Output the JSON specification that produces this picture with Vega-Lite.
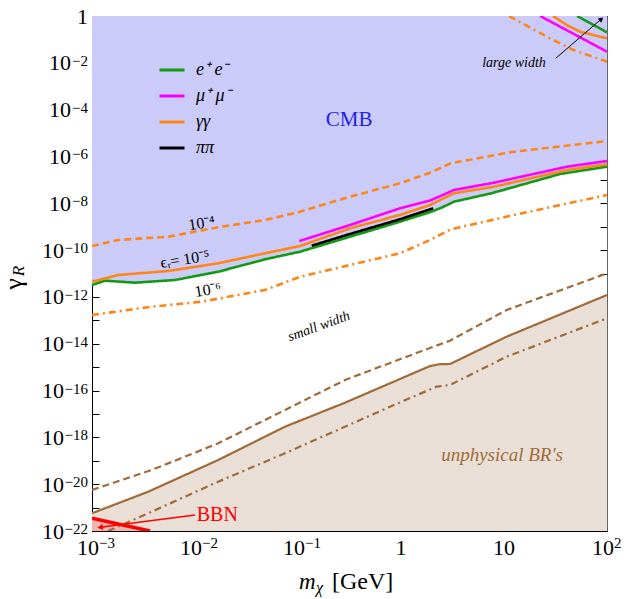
{
 "$schema": "https://vega.github.io/schema/vega-lite/v6.json",
 "width": 515, "height": 515,
 "autosize": {"type": "none"},
 "padding": {"left": 92, "top": 16, "right": 27, "bottom": 68},
 "background": "white",
 "config": {"view": {"stroke": "#333333", "strokeWidth": 1}},
 "datasets": {
  "curves": [
   {"line":"ee-a","ch":"e⁺ e⁻","sty":"solid","m":0.001,"g":3.23e-12},
   {"line":"ee-a","ch":"e⁺ e⁻","sty":"solid","m":0.00134,"g":4.93e-12},
   {"line":"ee-a","ch":"e⁺ e⁻","sty":"solid","m":0.00261,"g":4.05e-12},
   {"line":"ee-a","ch":"e⁺ e⁻","sty":"solid","m":0.0064,"g":5.28e-12},
   {"line":"ee-a","ch":"e⁺ e⁻","sty":"solid","m":0.0168,"g":1.19e-11},
   {"line":"ee-a","ch":"e⁺ e⁻","sty":"solid","m":0.0478,"g":4.04e-11},
   {"line":"ee-a","ch":"e⁺ e⁻","sty":"solid","m":0.105,"g":8.55e-11},
   {"line":"ee-a","ch":"e⁺ e⁻","sty":"solid","m":0.32,"g":3.73e-10},
   {"line":"ee-a","ch":"e⁺ e⁻","sty":"solid","m":0.977,"g":1.63e-9},
   {"line":"ee-a","ch":"e⁺ e⁻","sty":"solid","m":1.95,"g":4.3e-9},
   {"line":"ee-a","ch":"e⁺ e⁻","sty":"solid","m":2.5,"g":6.6e-9},
   {"line":"ee-a","ch":"e⁺ e⁻","sty":"solid","m":3.27,"g":1.17e-8},
   {"line":"ee-a","ch":"e⁺ e⁻","sty":"solid","m":7.6,"g":2.69e-8},
   {"line":"ee-a","ch":"e⁺ e⁻","sty":"solid","m":35,"g":1.78e-7},
   {"line":"ee-a","ch":"e⁺ e⁻","sty":"solid","m":100,"g":3.66e-7},
   {"line":"ee-b","ch":"e⁺ e⁻","sty":"solid","m":51.2,"g":1},
   {"line":"ee-b","ch":"e⁺ e⁻","sty":"solid","m":100,"g":0.201},
   {"line":"gg-a","ch":"γγ","sty":"solid","m":0.001,"g":4.47e-12},
   {"line":"gg-a","ch":"γγ","sty":"solid","m":0.0018,"g":8.63e-12},
   {"line":"gg-a","ch":"γγ","sty":"solid","m":0.0055,"g":1.28e-11},
   {"line":"gg-a","ch":"γγ","sty":"solid","m":0.0168,"g":2.73e-11},
   {"line":"gg-a","ch":"γγ","sty":"solid","m":0.0478,"g":7.29e-11},
   {"line":"gg-a","ch":"γγ","sty":"solid","m":0.105,"g":1.5e-10},
   {"line":"gg-a","ch":"γγ","sty":"solid","m":0.32,"g":8.53e-10},
   {"line":"gg-a","ch":"γγ","sty":"solid","m":0.977,"g":3.16e-9},
   {"line":"gg-a","ch":"γγ","sty":"solid","m":1.91,"g":8.43e-9},
   {"line":"gg-a","ch":"γγ","sty":"solid","m":3.27,"g":2.67e-8},
   {"line":"gg-a","ch":"γγ","sty":"solid","m":8.0,"g":5.11e-8},
   {"line":"gg-a","ch":"γγ","sty":"solid","m":40.9,"g":2.64e-7},
   {"line":"gg-a","ch":"γγ","sty":"solid","m":100,"g":4.62e-7},
   {"line":"gg-b","ch":"γγ","sty":"solid","m":29.9,"g":1},
   {"line":"gg-b","ch":"γγ","sty":"solid","m":40.6,"g":0.413},
   {"line":"gg-b","ch":"γγ","sty":"solid","m":54.7,"g":0.213},
   {"line":"gg-b","ch":"γγ","sty":"solid","m":100,"g":0.111},
   {"line":"gg-d","ch":"γγ","sty":"dash","m":0.001,"g":1.5e-10},
   {"line":"gg-d","ch":"γγ","sty":"dash","m":0.0018,"g":2.7e-10},
   {"line":"gg-d","ch":"γγ","sty":"dash","m":0.0055,"g":3.73e-10},
   {"line":"gg-d","ch":"γγ","sty":"dash","m":0.0168,"g":9.42e-10},
   {"line":"gg-d","ch":"γγ","sty":"dash","m":0.0478,"g":1.93e-9},
   {"line":"gg-d","ch":"γγ","sty":"dash","m":0.105,"g":4.37e-9},
   {"line":"gg-d","ch":"γγ","sty":"dash","m":0.32,"g":1.91e-8},
   {"line":"gg-d","ch":"γγ","sty":"dash","m":0.977,"g":7.13e-8},
   {"line":"gg-d","ch":"γγ","sty":"dash","m":1.91,"g":2.02e-7},
   {"line":"gg-d","ch":"γγ","sty":"dash","m":3.04,"g":5.11e-7},
   {"line":"gg-d","ch":"γγ","sty":"dash","m":12.5,"g":1.6e-6},
   {"line":"gg-d","ch":"γγ","sty":"dash","m":100,"g":4.57e-6},
   {"line":"gg-e","ch":"γγ","sty":"dashdot","m":0.001,"g":1.69e-13},
   {"line":"gg-e","ch":"γγ","sty":"dashdot","m":0.0038,"g":3.82e-13},
   {"line":"gg-e","ch":"γγ","sty":"dashdot","m":0.0116,"g":6.25e-13},
   {"line":"gg-e","ch":"γγ","sty":"dashdot","m":0.0478,"g":1.98e-12},
   {"line":"gg-e","ch":"γγ","sty":"dashdot","m":0.105,"g":7.31e-12},
   {"line":"gg-e","ch":"γγ","sty":"dashdot","m":0.32,"g":2.31e-11},
   {"line":"gg-e","ch":"γγ","sty":"dashdot","m":0.977,"g":7.29e-11},
   {"line":"gg-e","ch":"γγ","sty":"dashdot","m":1.91,"g":2.7e-10},
   {"line":"gg-e","ch":"γγ","sty":"dashdot","m":3.04,"g":7.73e-10},
   {"line":"gg-e","ch":"γγ","sty":"dashdot","m":12.5,"g":3.16e-9},
   {"line":"gg-e","ch":"γγ","sty":"dashdot","m":100,"g":2.26e-8},
   {"line":"gg-f","ch":"γγ","sty":"dashdot","m":11.2,"g":1},
   {"line":"gg-f","ch":"γγ","sty":"dashdot","m":26.0,"g":0.131},
   {"line":"gg-f","ch":"γγ","sty":"dashdot","m":47.1,"g":0.0353},
   {"line":"gg-f","ch":"γγ","sty":"dashdot","m":100,"g":0.0112},
   {"line":"mm-a","ch":"μ⁺ μ⁻","sty":"solid","m":0.103,"g":2.44e-10},
   {"line":"mm-a","ch":"μ⁺ μ⁻","sty":"solid","m":0.32,"g":1.18e-9},
   {"line":"mm-a","ch":"μ⁺ μ⁻","sty":"solid","m":0.977,"g":6.1e-9},
   {"line":"mm-a","ch":"μ⁺ μ⁻","sty":"solid","m":1.95,"g":1.35e-8},
   {"line":"mm-a","ch":"μ⁺ μ⁻","sty":"solid","m":3.27,"g":3.69e-8},
   {"line":"mm-a","ch":"μ⁺ μ⁻","sty":"solid","m":8.0,"g":7.57e-8},
   {"line":"mm-a","ch":"μ⁺ μ⁻","sty":"solid","m":40.9,"g":3.66e-7},
   {"line":"mm-a","ch":"μ⁺ μ⁻","sty":"solid","m":100,"g":6.4e-7},
   {"line":"mm-b","ch":"μ⁺ μ⁻","sty":"solid","m":22.4,"g":1},
   {"line":"mm-b","ch":"μ⁺ μ⁻","sty":"solid","m":100,"g":0.0299},
   {"line":"pp-a","ch":"ππ","sty":"solid","m":0.136,"g":1.54e-10},
   {"line":"pp-a","ch":"ππ","sty":"solid","m":0.32,"g":4.88e-10},
   {"line":"pp-a","ch":"ππ","sty":"solid","m":0.977,"g":2.07e-9},
   {"line":"pp-a","ch":"ππ","sty":"solid","m":2.05,"g":6.1e-9}
  ],
  "brown": [
   {"sty":"solid","m":0.001,"g":5.71e-22},
   {"sty":"solid","m":0.00352,"g":4.79e-21},
   {"sty":"solid","m":0.0168,"g":1.08e-19},
   {"sty":"solid","m":0.0748,"g":2.86e-18},
   {"sty":"solid","m":0.286,"g":3.03e-17},
   {"sty":"solid","m":1.9,"g":1.1e-15},
   {"sty":"solid","m":2.4,"g":1.35e-15},
   {"sty":"solid","m":2.99,"g":1.36e-15},
   {"sty":"solid","m":10.6,"g":2.0e-14},
   {"sty":"solid","m":100,"g":1.21e-12},
   {"sty":"dash","m":0.001,"g":5.65e-21},
   {"sty":"dash","m":0.0038,"g":4.05e-20},
   {"sty":"dash","m":0.0168,"g":5.58e-19},
   {"sty":"dash","m":0.0748,"g":1.48e-17},
   {"sty":"dash","m":0.286,"g":2.82e-16},
   {"sty":"dash","m":1.135,"g":2.8e-15},
   {"sty":"dash","m":2.06,"g":7.46e-15},
   {"sty":"dash","m":2.99,"g":1.35e-14},
   {"sty":"dash","m":10.6,"g":2.76e-13},
   {"sty":"dash","m":100,"g":1.02e-11},
   {"sty":"dashdot","m":0.00143,"g":1e-22},
   {"sty":"dashdot","m":0.0038,"g":6.68e-22},
   {"sty":"dashdot","m":0.0168,"g":1.28e-20},
   {"sty":"dashdot","m":0.0748,"g":2.09e-19},
   {"sty":"dashdot","m":0.286,"g":2.86e-18},
   {"sty":"dashdot","m":0.782,"g":2.04e-17},
   {"sty":"dashdot","m":2.22,"g":1.47e-16},
   {"sty":"dashdot","m":2.99,"g":1.73e-16},
   {"sty":"dashdot","m":10.6,"g":2.8e-15},
   {"sty":"dashdot","m":100,"g":1.22e-13}
  ],
  "bbn": [{"m":0.001,"g":3.49e-22},{"m":0.00366,"g":1e-22}],
  "arrows": [
   {"name":"large","m":31.8,"g":0.0156,"m2":88.1,"g2":0.744},
   {"name":"bbn","m":0.01,"g":4.84e-22,"m2":0.0012,"g2":1.44e-22}
  ],
  "epslabels": [
   {"t":"10⁻⁴","m":0.0116,"g":1.4e-9},
   {"t":"ϵᵣ= 10⁻⁵","m":0.008,"g":4.05e-11},
   {"t":"10⁻⁶","m":0.01336,"g":1.98e-12}
  ],
  "xlab": [
   {"m":0.001,"g":1e-22,"b":"10","e":"−3"},
   {"m":0.01,"g":1e-22,"b":"10","e":"−2"},
   {"m":0.1,"g":1e-22,"b":"10","e":"−1"},
   {"m":1,"g":1e-22,"b":"1","e":""},
   {"m":10,"g":1e-22,"b":"10","e":""},
   {"m":100,"g":1e-22,"b":"10","e":"2"}
  ],
  "ylab": [
   {"m":0.001,"g":1,"b":"1","e":""},
   {"m":0.001,"g":1e-2,"b":"10","e":"−2"},
   {"m":0.001,"g":1e-4,"b":"10","e":"−4"},
   {"m":0.001,"g":1e-6,"b":"10","e":"−6"},
   {"m":0.001,"g":1e-8,"b":"10","e":"−8"},
   {"m":0.001,"g":1e-10,"b":"10","e":"−10"},
   {"m":0.001,"g":1e-12,"b":"10","e":"−12"},
   {"m":0.001,"g":1e-14,"b":"10","e":"−14"},
   {"m":0.001,"g":1e-16,"b":"10","e":"−16"},
   {"m":0.001,"g":1e-18,"b":"10","e":"−18"},
   {"m":0.001,"g":1e-20,"b":"10","e":"−20"},
   {"m":0.001,"g":1e-22,"b":"10","e":"−22"}
  ]
 },
 "encoding": {
  "x": {"field":"m","type":"quantitative","scale":{"type":"log","domain":[0.001,100],"nice":false},"axis":null},
  "y": {"field":"g","type":"quantitative","scale":{"type":"log","domain":[1e-22,1],"nice":false},"axis":null}
 },
 "layer": [
  {
   "data": {"name":"curves"},
   "transform": [{"filter":"datum.line == 'ee-a'"}],
   "mark": {"type":"area","color":"#CBCBFA","opacity":1,"clip":true},
   "encoding": {
    "x": {"field":"m","type":"quantitative","scale":{"type":"log","domain":[0.001,100],"nice":false},
     "axis":{"orient":"bottom","values":[0.001,0.002,0.003,0.004,0.005,0.006,0.007,0.008,0.009,0.01,0.02,0.03,0.04,0.05,0.06,0.07,0.08,0.09,0.1,0.2,0.3,0.4,0.5,0.6,0.7,0.8,0.9,1,2,3,4,5,6,7,8,9,10,20,30,40,50,60,70,80,90,100],
      "labels":false,"tickSize":-7,"tickColor":"#000","tickWidth":1,"domainColor":"#000","grid":false,"title":null}},
    "y": {"field":"g","type":"quantitative","scale":{"type":"log","domain":[1e-22,1],"nice":false},
     "axis":{"orient":"left","values":[1,0.1,1e-2,1e-3,1e-4,1e-5,1e-6,1e-7,1e-8,1e-9,1e-10,1e-11,1e-12,1e-13,1e-14,1e-15,1e-16,1e-17,1e-18,1e-19,1e-20,1e-21,1e-22],
      "labels":false,"tickSize":-7,"tickColor":"#000","tickWidth":1,"domainColor":"#000","grid":false,"title":null}},
    "y2": {"datum":1}
   }
  },
  {
   "data": {"name":"brown"},
   "transform": [{"filter":"datum.sty == 'solid'"}],
   "mark": {"type":"area","color":"#E9DFD6","opacity":1,"clip":true},
   "encoding": {
    "x": {"field":"m","type":"quantitative","scale":{"type":"log","domain":[0.001,100],"nice":false},
     "axis":{"orient":"top","values":[0.001,0.002,0.003,0.004,0.005,0.006,0.007,0.008,0.009,0.01,0.02,0.03,0.04,0.05,0.06,0.07,0.08,0.09,0.1,0.2,0.3,0.4,0.5,0.6,0.7,0.8,0.9,1,2,3,4,5,6,7,8,9,10,20,30,40,50,60,70,80,90,100],
      "labels":false,"tickSize":-7,"tickColor":"#000","tickWidth":1,"domainColor":"#000","grid":false,"title":null}},
    "y": {"field":"g","type":"quantitative","scale":{"type":"log","domain":[1e-22,1],"nice":false},
     "axis":{"orient":"right","values":[1,0.1,1e-2,1e-3,1e-4,1e-5,1e-6,1e-7,1e-8,1e-9,1e-10,1e-11,1e-12,1e-13,1e-14,1e-15,1e-16,1e-17,1e-18,1e-19,1e-20,1e-21,1e-22],
      "labels":false,"tickSize":-7,"tickColor":"#000","tickWidth":1,"domainColor":"#666","grid":false,"title":null}},
    "y2": {"datum":1e-22}
   }
  },
  {
   "data": {"name":"bbn"},
   "mark": {"type":"area","color":"#F2B6B0","opacity":1,"clip":true},
   "encoding": {"y2": {"datum":1e-22}}
  },
  {
   "data": {"name":"bbn"},
   "mark": {"type":"line","color":"#FF0000","strokeWidth":3.5,"clip":true},
   "encoding": {}
  },
  {
   "data": {"name":"brown"},
   "mark": {"type":"line","color":"#A06B38","strokeWidth":2.2,"clip":true},
   "encoding": {
    "detail": {"field":"sty"},
    "strokeDash": {"field":"sty","type":"nominal","scale":{"domain":["solid","dash","dashdot"],"range":[[1,0],[7,4],[7,4,2,4]]},"legend":null}
   }
  },
  {
   "data": {"name":"curves"},
   "mark": {"type":"line","strokeWidth":2.6,"clip":true},
   "encoding": {
    "detail": {"field":"line"},
    "color": {"field":"ch","type":"nominal","scale":{"domain":["e⁺ e⁻","μ⁺ μ⁻","γγ","ππ"],"range":["#139A13","#FF00FF","#FF8616","#000000"]},
     "legend":{"orient":"none","legendX":66,"legendY":40,"title":null,"symbolType":"stroke","symbolSize":625,"symbolStrokeWidth":3,"labelFont":"Liberation Serif","labelFontStyle":"italic","labelFontSize":18,"labelColor":"#000","labelOffset":10,"rowPadding":3,"padding":0}},
    "strokeDash": {"field":"sty","type":"nominal","scale":{"domain":["solid","dash","dashdot"],"range":[[1,0],[7,4],[7,4,2,4]]},"legend":null}
   }
  },
  {
   "data": {"name":"arrows"},
   "transform": [{"filter":"datum.name == 'large'"}],
   "mark": {"type":"rule","color":"#000","strokeWidth":1},
   "encoding": {"x2":{"field":"m2"},"y2":{"field":"g2"}}
  },
  {
   "data": {"name":"arrows"},
   "transform": [{"filter":"datum.name == 'large'"}],
   "mark": {"type":"point","shape":"triangle-up","filled":true,"color":"#000","size":30,"angle":49,"opacity":1},
   "encoding": {"x":{"field":"m2","type":"quantitative"},"y":{"field":"g2","type":"quantitative"}}
  },
  {
   "data": {"name":"arrows"},
   "transform": [{"filter":"datum.name == 'bbn'"}],
   "mark": {"type":"rule","color":"#FF0000","strokeWidth":1.5},
   "encoding": {"x2":{"field":"m2"},"y2":{"field":"g2"}}
  },
  {
   "data": {"name":"arrows"},
   "transform": [{"filter":"datum.name == 'bbn'"}],
   "mark": {"type":"point","shape":"triangle-up","filled":true,"color":"#FF0000","size":40,"angle":263,"opacity":1},
   "encoding": {"x":{"field":"m2","type":"quantitative"},"y":{"field":"g2","type":"quantitative"}}
  },
  {
   "data": {"values":[{"t":"CMB","m":0.313,"g":3.6e-5}]},
   "mark": {"type":"text","font":"Liberation Serif","fontSize":21,"color":"#1E1EF0","align":"center","baseline":"middle"},
   "encoding": {"text":{"field":"t"}}
  },
  {
   "data": {"values":[{"t":"large width","m":12.5,"g":0.0095}]},
   "mark": {"type":"text","font":"Liberation Serif","fontStyle":"italic","fontSize":14,"color":"#000","align":"center","baseline":"middle"},
   "encoding": {"text":{"field":"t"}}
  },
  {
   "data": {"values":[{"t":"unphysical BR's","m":9.57,"g":1.77e-19}]},
   "mark": {"type":"text","font":"Liberation Serif","fontStyle":"italic","fontSize":19,"color":"#A06B38","align":"center","baseline":"middle"},
   "encoding": {"text":{"field":"t"}}
  },
  {
   "data": {"values":[{"t":"BBN","m":0.0104,"g":4.8e-22}]},
   "mark": {"type":"text","font":"Liberation Serif","fontSize":20,"color":"#FF0000","align":"left","baseline":"middle"},
   "encoding": {"text":{"field":"t"}}
  },
  {
   "data": {"values":[{"t":"small width","m":0.16,"g":5.5e-14}]},
   "mark": {"type":"text","font":"Liberation Serif","fontStyle":"italic","fontSize":14,"color":"#000","align":"center","baseline":"middle","angle":340},
   "encoding": {"text":{"field":"t"}}
  },
  {
   "data": {"name":"epslabels"},
   "mark": {"type":"text","font":"Liberation Serif","fontSize":16,"color":"#000","align":"center","baseline":"middle","angle":351},
   "encoding": {"text":{"field":"t"}}
  },
  {
   "data": {"name":"xlab"},
   "transform": [{"filter":"datum.e != ''"}],
   "mark": {"type":"text","font":"Liberation Serif","fontSize":22,"color":"#000","align":"right","baseline":"alphabetic","dx":7,"dy":24},
   "encoding": {"text":{"field":"b"}}
  },
  {
   "data": {"name":"xlab"},
   "transform": [{"filter":"datum.e != ''"}],
   "mark": {"type":"text","font":"Liberation Serif","fontSize":15,"color":"#000","align":"left","baseline":"alphabetic","dx":7,"dy":17},
   "encoding": {"text":{"field":"e"}}
  },
  {
   "data": {"name":"xlab"},
   "transform": [{"filter":"datum.e == ''"}],
   "mark": {"type":"text","font":"Liberation Serif","fontSize":22,"color":"#000","align":"center","baseline":"alphabetic","dy":24},
   "encoding": {"text":{"field":"b"}}
  },
  {
   "data": {"name":"ylab"},
   "transform": [{"filter":"datum.e != ''"}],
   "mark": {"type":"text","font":"Liberation Serif","fontSize":15,"color":"#000","align":"right","baseline":"alphabetic","dx":-4,"dy":3},
   "encoding": {"text":{"field":"e"}}
  },
  {
   "data": {"name":"ylab"},
   "transform": [{"filter":"length(datum.e) == 2"}],
   "mark": {"type":"text","font":"Liberation Serif","fontSize":22,"color":"#000","align":"right","baseline":"alphabetic","dx":-21,"dy":7.5},
   "encoding": {"text":{"field":"b"}}
  },
  {
   "data": {"name":"ylab"},
   "transform": [{"filter":"length(datum.e) == 3"}],
   "mark": {"type":"text","font":"Liberation Serif","fontSize":22,"color":"#000","align":"right","baseline":"alphabetic","dx":-28,"dy":7.5},
   "encoding": {"text":{"field":"b"}}
  },
  {
   "data": {"name":"ylab"},
   "transform": [{"filter":"datum.e == ''"}],
   "mark": {"type":"text","font":"Liberation Serif","fontSize":22,"color":"#000","align":"right","baseline":"alphabetic","dx":-4,"dy":7.5},
   "encoding": {"text":{"field":"b"}}
  },
  {
   "data": {"values":[{"t":"γ","m":0.001,"g":3.56e-12}]},
   "mark": {"type":"text","font":"Liberation Serif","fontSize":26,"color":"#000","align":"center","baseline":"middle","angle":270,"dy":-78},
   "encoding": {"text":{"field":"t"}}
  },
  {
   "data": {"values":[{"t":"R","m":0.001,"g":1.28e-11}]},
   "mark": {"type":"text","font":"Liberation Serif","fontStyle":"italic","fontSize":17,"color":"#000","align":"center","baseline":"middle","angle":270,"dy":-73},
   "encoding": {"text":{"field":"t"}}
  },
  {
   "data": {"values":[{"t":"m","m":0.3126,"g":1e-22}]},
   "mark": {"type":"text","font":"Liberation Serif","fontStyle":"italic","fontSize":23,"color":"#000","align":"left","baseline":"alphabetic","dx":-50,"dy":58},
   "encoding": {"text":{"field":"t"}}
  },
  {
   "data": {"values":[{"t":"χ","m":0.3126,"g":1e-22}]},
   "mark": {"type":"text","font":"Liberation Serif","fontStyle":"italic","fontSize":16,"color":"#000","align":"left","baseline":"alphabetic","dx":-33,"dy":62},
   "encoding": {"text":{"field":"t"}}
  },
  {
   "data": {"values":[{"t":"[GeV]","m":0.3126,"g":1e-22}]},
   "mark": {"type":"text","font":"Liberation Serif","fontSize":24,"color":"#000","align":"left","baseline":"alphabetic","dx":-17,"dy":58},
   "encoding": {"text":{"field":"t"}}
  }
 ],
 "resolve": {"axis": {"x":"independent","y":"independent"}}
}
